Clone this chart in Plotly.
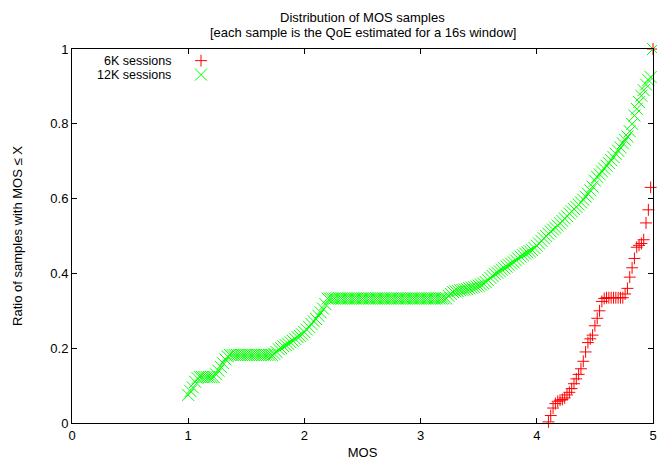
import plotly.graph_objects as go

# ---- data: cumulative ratio of MOS samples <= X ----
mos_12k = [
    1.00, 1.02, 1.04, 1.06, 1.08, 1.10, 1.12, 1.14, 1.16, 1.18,
    1.20, 1.22, 1.24, 1.26, 1.28, 1.30, 1.32, 1.34, 1.36, 1.38,
    1.40, 1.42, 1.44, 1.46, 1.48, 1.50, 1.52, 1.54, 1.56, 1.58,
    1.60, 1.62, 1.64, 1.66, 1.68, 1.70, 1.72, 1.74, 1.76, 1.78,
    1.80, 1.82, 1.84, 1.86, 1.88, 1.90, 1.92, 1.94, 1.96, 1.98,
    2.00, 2.02, 2.04, 2.06, 2.08, 2.10, 2.12, 2.14, 2.16, 2.18,
    2.20, 2.22, 2.24, 2.26, 2.28, 2.30, 2.32, 2.34, 2.36, 2.38,
    2.40, 2.42, 2.44, 2.46, 2.48, 2.50, 2.52, 2.54, 2.56, 2.58,
    2.60, 2.62, 2.64, 2.66, 2.68, 2.70, 2.72, 2.74, 2.76, 2.78,
    2.80, 2.82, 2.84, 2.86, 2.88, 2.90, 2.92, 2.94, 2.96, 2.98,
    3.00, 3.02, 3.04, 3.06, 3.08, 3.10, 3.12, 3.14, 3.16, 3.18,
    3.20, 3.22, 3.24, 3.26, 3.28, 3.30, 3.32, 3.34, 3.36, 3.38,
    3.40, 3.42, 3.44, 3.46, 3.48, 3.50, 3.52, 3.54, 3.56, 3.58,
    3.60, 3.62, 3.64, 3.66, 3.68, 3.70, 3.72, 3.74, 3.76, 3.78,
    3.80, 3.82, 3.84, 3.86, 3.88, 3.90, 3.92, 3.94, 3.96, 3.98,
    4.00, 4.02, 4.04, 4.06, 4.08, 4.10, 4.12, 4.14, 4.16, 4.18,
    4.20, 4.22, 4.24, 4.26, 4.28, 4.30, 4.32, 4.34, 4.36, 4.38,
    4.40, 4.42, 4.44, 4.46, 4.48, 4.50, 4.52, 4.54, 4.56, 4.58,
    4.60, 4.62, 4.64, 4.66, 4.68, 4.70, 4.72, 4.74, 4.76, 4.78,
    4.80, 4.82, 4.84, 4.86, 4.88, 4.90, 4.92, 4.94, 4.96, 4.98,
    5.00,
]
ratio_12k = [
    0.075, 0.085, 0.095, 0.11, 0.12, 0.123, 0.123, 0.123, 0.123, 0.123,
    0.123, 0.123, 0.13, 0.14, 0.15, 0.16, 0.17, 0.178, 0.182, 0.182,
    0.182, 0.182, 0.182, 0.182, 0.182, 0.182, 0.182, 0.182, 0.182, 0.182,
    0.182, 0.182, 0.182, 0.182, 0.182, 0.182, 0.182, 0.185, 0.19, 0.197,
    0.20, 0.205, 0.208, 0.212, 0.216, 0.22, 0.225, 0.23, 0.233, 0.237,
    0.243, 0.25, 0.257, 0.265, 0.272, 0.278, 0.287, 0.296, 0.306, 0.318,
    0.333, 0.333, 0.333, 0.333, 0.333, 0.333, 0.333, 0.333, 0.333, 0.333,
    0.333, 0.333, 0.333, 0.333, 0.333, 0.333, 0.333, 0.333, 0.333, 0.333,
    0.333, 0.333, 0.333, 0.333, 0.333, 0.333, 0.333, 0.333, 0.333, 0.333,
    0.333, 0.333, 0.333, 0.333, 0.333, 0.333, 0.333, 0.333, 0.333, 0.333,
    0.333, 0.333, 0.333, 0.333, 0.333, 0.333, 0.333, 0.333, 0.333, 0.333,
    0.333, 0.333, 0.34, 0.345, 0.35, 0.352, 0.353, 0.355, 0.356, 0.357,
    0.358, 0.36, 0.362, 0.363, 0.365, 0.367, 0.37, 0.373, 0.377, 0.382,
    0.388, 0.393, 0.398, 0.402, 0.406, 0.41, 0.414, 0.418, 0.422, 0.426,
    0.43, 0.435, 0.44, 0.445, 0.449, 0.453, 0.456, 0.459, 0.462, 0.468,
    0.474, 0.48, 0.487, 0.494, 0.50, 0.506, 0.512, 0.517, 0.522, 0.528,
    0.534, 0.54, 0.547, 0.553, 0.56, 0.566, 0.572, 0.578, 0.584, 0.59,
    0.597, 0.605, 0.613, 0.622, 0.632, 0.648, 0.658, 0.665, 0.673, 0.68,
    0.688, 0.695, 0.703, 0.711, 0.72, 0.728, 0.737, 0.748, 0.757, 0.766,
    0.78, 0.80, 0.822, 0.84, 0.858, 0.875, 0.89, 0.905, 0.917, 0.925,
    1.0,
]

mos_6k = [
    4.10, 4.12, 4.14, 4.16, 4.18, 4.20, 4.22, 4.24, 4.26, 4.28,
    4.30, 4.32, 4.34, 4.36, 4.38, 4.40, 4.42, 4.44, 4.46, 4.48,
    4.50, 4.52, 4.54, 4.56, 4.58, 4.60, 4.62, 4.64, 4.66, 4.68,
    4.70, 4.72, 4.74, 4.76, 4.78, 4.80, 4.82, 4.84, 4.86, 4.88,
    4.90, 4.92, 4.94, 4.96, 4.98, 5.00,
]
ratio_6k = [
    0.003, 0.02, 0.04, 0.052, 0.058, 0.061, 0.063, 0.067, 0.075, 0.082,
    0.092, 0.105, 0.118, 0.13, 0.145, 0.165, 0.19, 0.215, 0.225, 0.235,
    0.26, 0.28, 0.30, 0.325, 0.333, 0.335, 0.335, 0.335, 0.335, 0.335,
    0.335, 0.335, 0.335, 0.345, 0.36, 0.39, 0.415, 0.44, 0.47, 0.475,
    0.48, 0.49, 0.535, 0.57, 0.63, 1.0,
]

series_names = ["6K sessions", "12K sessions"]
title_lines = ["Distribution of MOS samples",
               "[each sample is the QoE estimated for a 16s window]"]
x_ticks = [0, 1, 2, 3, 4, 5]
y_ticks = [0, 0.2, 0.4, 0.6, 0.8, 1]
y_tick_text = ["0", "0.2", "0.4", "0.6", "0.8", "1"]

FONT = "Liberation Sans, Arial, Helvetica, sans-serif"
RED = "#ff0000"
GREEN = "#00ff00"

# The page body has an 8px margin, so the figure is drawn 8px smaller and
# all layout positions below are page positions minus that offset.
OFF = 8
W, H = 665 - OFF, 462 - OFF
L, R, T, B = 72 - OFF, 653 - OFF, 49 - OFF, 423 - OFF
PW, PH = R - L, B - T


def px(x_page):
    return (x_page - OFF - L) / PW


def py(y_page):
    return (B - (y_page - OFF)) / PH


fig = go.Figure()
fig.add_trace(go.Scatter(
    x=mos_6k, y=ratio_6k, mode="markers", name="",
    marker=dict(symbol="cross-thin-open", size=8.5, color=RED,
                line=dict(color=RED, width=1)),
    cliponaxis=False, legend="legend",
))
fig.add_trace(go.Scatter(
    x=mos_12k, y=ratio_12k, mode="markers", name="",
    marker=dict(symbol="x-thin-open", size=12, color=GREEN,
                line=dict(color=GREEN, width=1)),
    cliponaxis=False, legend="legend2",
))

txt_font = dict(family=FONT, size=13, color="black")
key_font = dict(family=FONT, size=12.5, color="black")

axis_common = dict(
    showline=True, linecolor="black", linewidth=1, mirror="ticks",
    ticks="inside", ticklen=5, tickcolor="black", tickwidth=1,
    showgrid=False, zeroline=False, automargin=False,
    tickfont=txt_font,
)

legend_common = dict(
    bgcolor="rgba(0,0,0,0)", borderwidth=0,
    font=key_font,
    xanchor="left", yanchor="middle", itemwidth=30,
)

KEY_Y = [61, 75]

fig.update_layout(
    width=W, height=H,
    margin=dict(l=L, r=W - R, t=T, b=H - B, autoexpand=False),
    paper_bgcolor="white", plot_bgcolor="white",
    font=txt_font,
    xaxis=dict(range=[0, 5], tickvals=x_ticks,
               title=dict(text="MOS", standoff=6, font=txt_font),
               **axis_common),
    yaxis=dict(range=[0, 1], tickvals=y_ticks, ticktext=y_tick_text,
               title=dict(text="Ratio of samples with MOS \u2264 X", standoff=24,
                          font=txt_font),
               **axis_common),
    showlegend=True,
    legend=dict(x=px(181), y=py(KEY_Y[0]), **legend_common),
    legend2=dict(x=px(181), y=py(KEY_Y[1]), **legend_common),
    annotations=[
        dict(text=title_lines[0], xref="paper", yref="paper",
             x=0.5, y=py(17.5), xanchor="center", yanchor="middle",
             showarrow=False, font=txt_font),
        dict(text=title_lines[1], xref="paper", yref="paper",
             x=0.5, y=py(32.5), xanchor="center", yanchor="middle",
             showarrow=False, font=txt_font),
        dict(text=series_names[0], xref="paper", yref="paper",
             x=px(173), y=py(KEY_Y[0]),
             xanchor="right", yanchor="middle", showarrow=False,
             font=key_font),
        dict(text=series_names[1], xref="paper", yref="paper",
             x=px(173), y=py(KEY_Y[1]),
             xanchor="right", yanchor="middle", showarrow=False,
             font=key_font),
    ],
)

fig.write_html("out.html")
